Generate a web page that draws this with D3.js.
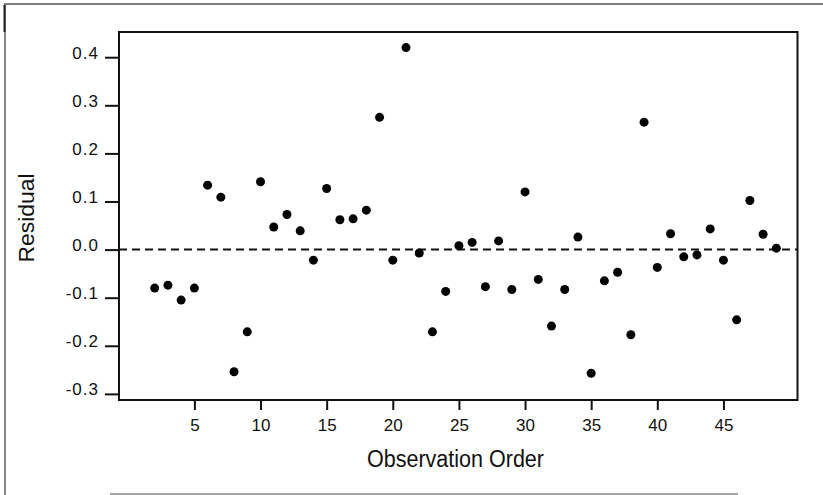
<!DOCTYPE html>
<html>
<head>
<meta charset="utf-8">
<script src="https://cdn.jsdelivr.net/npm/d3@7"></script>
<style>
  body { margin: 0; background: #fff; }
  text { font-family: "Liberation Sans", Arial, sans-serif; fill: #111; }
</style>
</head>
<body>
<div id="chart"></div>
<script>
// observation order and residuals
var obs = [2, 3, 4, 5, 6, 7, 8, 9, 10, 11, 12, 13, 14, 15, 16, 17, 18, 19, 20, 21,
           22, 23, 24, 25, 26, 27, 28, 29, 30, 31, 32, 33, 34, 35, 36, 37, 38, 39, 40, 41,
           42, 43, 44, 45, 46, 47, 48, 49];
var residuals = [-0.080, -0.074, -0.105, -0.080, 0.134, 0.109, -0.254, -0.171, 0.141, 0.047,
                 0.073, 0.039, -0.022, 0.127, 0.062, 0.064, 0.082, 0.275, -0.022, 0.420,
                 -0.007, -0.171, -0.087, 0.008, 0.015, -0.077, 0.018, -0.083, 0.120, -0.062,
                 -0.159, -0.083, 0.026, -0.257, -0.065, -0.047, -0.177, 0.265, -0.037, 0.033,
                 -0.015, -0.011, 0.043, -0.022, -0.146, 0.102, 0.032, 0.003];
var xTicks = [5, 10, 15, 20, 25, 30, 35, 40, 45];
var xTickLabels = ["5", "10", "15", "20", "25", "30", "35", "40", "45"];
var yTicks = [0.4, 0.3, 0.2, 0.1, 0.0, -0.1, -0.2, -0.3];
var yTickLabels = ["0.4", "0.3", "0.2", "0.1", "0.0", "-0.1", "-0.2", "-0.3"];

var width = 823, height = 495;
var margin = { top: 32, right: 25.5, bottom: 95, left: 119 };

var svg = d3.select("#chart").append("svg")
    .attr("width", width)
    .attr("height", height);

// outer border (scanned page frame)
svg.append("line").attr("x1", 4).attr("y1", 4).attr("x2", 823).attr("y2", 4)
    .attr("stroke", "#555").attr("stroke-width", 1.5);
svg.append("line").attr("x1", 5).attr("y1", 4).attr("x2", 5).attr("y2", 495)
    .attr("stroke", "#888").attr("stroke-width", 2);
svg.append("line").attr("x1", 4.5).attr("y1", 5).attr("x2", 4.5).attr("y2", 32)
    .attr("stroke", "#222").attr("stroke-width", 2);
svg.append("line").attr("x1", 110).attr("y1", 494).attr("x2", 738).attr("y2", 494)
    .attr("stroke", "#888").attr("stroke-width", 1.5);

var x = d3.scaleLinear()
    .domain([-0.7, 50.6])
    .range([margin.left, width - margin.right]);

var y = d3.scaleLinear()
    .domain([-0.3127, 0.4524])
    .range([height - margin.bottom, margin.top]);

// axes
var xAxis = svg.append("g")
    .attr("transform", "translate(0," + (height - margin.bottom) + ")")
    .call(d3.axisBottom(x).tickValues(xTicks).tickSize(10).tickPadding(5)
        .tickFormat(function(d, i) { return xTickLabels[i]; }));

var yAxis = svg.append("g")
    .attr("transform", "translate(" + margin.left + ",0)")
    .call(d3.axisLeft(y).tickValues(yTicks).tickSize(14).tickPadding(6)
        .tickFormat(function(d, i) { return yTickLabels[i]; }));

[xAxis, yAxis].forEach(function(g) {
    g.select(".domain").remove();
    g.selectAll(".tick line").attr("stroke", "#111").attr("stroke-width", 2);
    g.selectAll(".tick text")
        .attr("fill", "#111")
        .style("font-size", "17px")
        .style("font-family", "'Liberation Sans', Arial, sans-serif");
});
yAxis.selectAll(".tick text").attr("dy", "0.05em").style("letter-spacing", "1px");
xAxis.selectAll(".tick text").attr("dy", "0.95em");

// plot frame
svg.append("rect")
    .attr("x", margin.left)
    .attr("y", margin.top)
    .attr("width", width - margin.right - margin.left)
    .attr("height", height - margin.bottom - margin.top)
    .attr("fill", "none")
    .attr("stroke", "#111")
    .attr("stroke-width", 2);

// zero reference line
svg.append("line")
    .attr("x1", margin.left)
    .attr("x2", width - margin.right)
    .attr("y1", y(0))
    .attr("y2", y(0))
    .attr("stroke", "#111")
    .attr("stroke-width", 2)
    .attr("stroke-dasharray", "8,5");

// points
svg.append("g").selectAll("circle")
    .data(obs)
    .join("circle")
    .attr("cx", function(d) { return x(d); })
    .attr("cy", function(d, i) { return y(residuals[i]); })
    .attr("r", 4.5)
    .attr("fill", "#000");

// axis titles
svg.append("text")
    .attr("x", 455.5)
    .attr("y", 466.5)
    .attr("text-anchor", "middle")
    .attr("textLength", 177)
    .attr("lengthAdjust", "spacingAndGlyphs")
    .style("font-size", "23px")
    .text("Observation Order");

svg.append("text")
    .attr("transform", "translate(34,218) rotate(-90)")
    .attr("text-anchor", "middle")
    .attr("textLength", 89)
    .attr("lengthAdjust", "spacingAndGlyphs")
    .style("font-size", "22px")
    .text("Residual");
</script>
</body>
</html>
